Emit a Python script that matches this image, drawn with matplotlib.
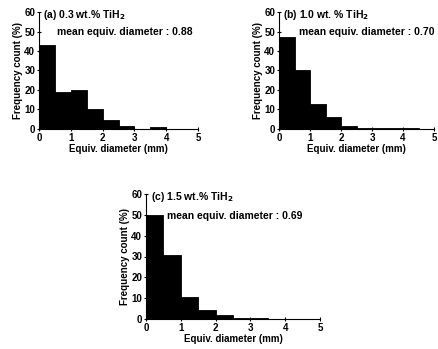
import numpy as np
import matplotlib
matplotlib.use('Agg')
import matplotlib.pyplot as plt

plt.rcParams['font.family'] = ['Liberation Sans', 'DejaVu Sans']
plt.rcParams['font.weight'] = 'bold'

# bin edges (mm) and frequency counts (%)
bin_edges = [0, 0.5, 1.0, 1.5, 2.0, 2.5, 3.0, 3.5, 4.0, 4.5, 5.0]
freq_a = [43, 19, 20, 10.5, 4.5, 1.3, 0.2, 1.2, 0, 0]
freq_b = [47, 30, 13, 6, 1.5, 0.7, 0.5, 0.4, 0.3, 0]
freq_c = [50, 30.5, 10.5, 4.5, 2, 0.7, 0.5, 0, 0, 0]

titles = ['(a) 0.3 wt.% TiH$_\\mathbf{2}$', '(b) 1.0 wt. % TiH$_\\mathbf{2}$', '(c) 1.5 wt.% TiH$_\\mathbf{2}$']
means = ['mean equiv. diameter : 0.88', 'mean equiv. diameter : 0.70', 'mean equiv. diameter : 0.69']
mean_x = [0.57, 0.65, 0.6]

W, H = 438, 349
fig = plt.figure(figsize=(W / 100, H / 100), dpi=100)

# axes boxes in pixels: left, top, right, bottom
boxes = [(39, 12, 198, 129), (279, 12, 434, 129), (146, 194, 320, 319)]


def panel(box, freq, title, mean, mx):
    l, t, r, b = box
    ax = fig.add_axes([l / W, 1 - b / H, (r - l) / W, (b - t) / H])
    left = np.array(bin_edges[:-1])
    width = np.diff(bin_edges)
    ax.bar(left, freq, width=width, align='edge', color='black', edgecolor='black', linewidth=0.6)
    ax.set_xlim(0, 5)
    ax.set_ylim(0, 60)
    ax.set_xticks([0, 1, 2, 3, 4, 5])
    ax.set_yticks([0, 10, 20, 30, 40, 50, 60])
    ax.spines['top'].set_visible(False)
    ax.spines['right'].set_visible(False)
    ax.tick_params(labelsize=7, length=2.5, width=0.8, pad=1.5, direction='inout')
    ax.set_xlabel('Equiv. diameter (mm)', fontsize=7, fontweight='bold', labelpad=1)
    ax.set_ylabel('Frequency count (%)', fontsize=7, fontweight='bold', labelpad=1)
    ax.text(0.13, 58.5, title, fontsize=7.5, fontweight='bold', va='center')
    ax.text(mx, 49.5, mean, fontsize=7.5, fontweight='bold', va='center')
    return ax


for box, freq, title, mean, mx in zip(boxes, [freq_a, freq_b, freq_c], titles, means, mean_x):
    panel(box, freq, title, mean, mx)

fig.savefig('out.png', dpi=100)
